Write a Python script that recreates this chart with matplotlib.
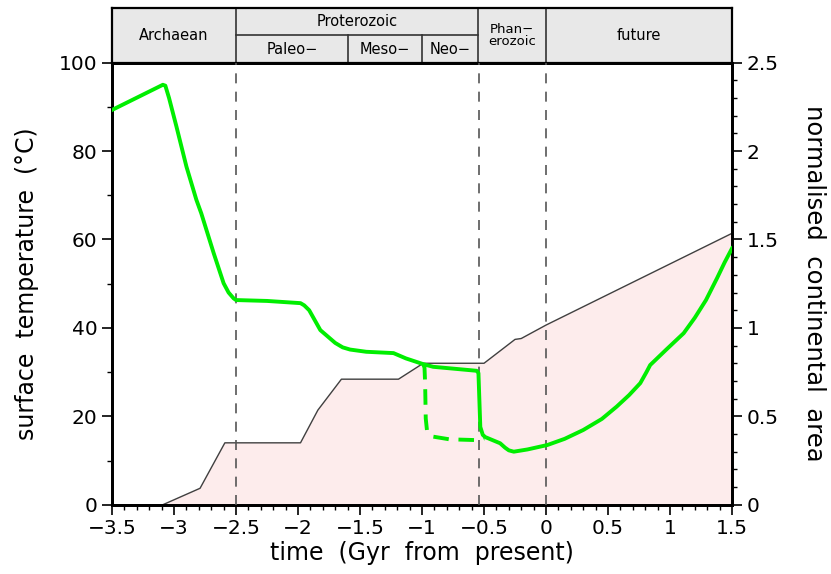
import matplotlib
matplotlib.use("Agg")
import matplotlib.pyplot as plt
from matplotlib.ticker import MultipleLocator

# surface temperature (solid green)
temp_t = [-3.5, -3.09, -3.07, -3.04, -2.98, -2.90, -2.82, -2.78, -2.68, -2.60, -2.56,
          -2.52, -2.50, -2.25, -1.98, -1.95, -1.91, -1.82, -1.70, -1.64, -1.58, -1.45,
          -1.23, -1.13, -0.99, -0.91, -0.56, -0.545, -0.53, -0.51, -0.49, -0.37, -0.33,
          -0.30, -0.26, -0.15, 0.01, 0.15, 0.30, 0.45, 0.57, 0.67, 0.76, 0.81, 0.84,
          0.97, 1.11, 1.20, 1.29, 1.38, 1.44, 1.5]
temp = [89.3, 95.0, 94.8, 92.0, 85.5, 76.5, 69.0, 65.9, 56.9, 50.1, 48.0,
        46.7, 46.3, 46.1, 45.6, 45.1, 44.0, 39.5, 36.6, 35.6, 35.1, 34.6,
        34.3, 33.1, 31.8, 31.2, 30.3, 29.8, 17.6, 15.8, 15.3, 13.9, 12.9,
        12.3, 12.0, 12.5, 13.5, 14.9, 16.9, 19.4, 22.2, 24.8, 27.5, 30.0, 31.6,
        35.1, 38.8, 42.3, 46.3, 51.3, 54.8, 58.0]

# alternative temperature branch (dashed green)
alt_t = [-0.99, -0.98, -0.975, -0.97, -0.96, -0.94, -0.91, -0.78, -0.54, -0.50]
alt_temp = [31.8, 31.0, 27.5, 19.5, 16.8, 15.9, 15.4, 14.8, 14.6, 15.0]

# normalised continental area (grey line, right axis)
area_t = [-3.5, -3.09, -2.79, -2.59, -1.98, -1.84, -1.65, -1.19, -0.99, -0.50,
          -0.25, -0.20, 0.0, 1.5]
area = [0.0, 0.0, 0.093, 0.35, 0.35, 0.535, 0.71, 0.71, 0.80, 0.80,
        0.935, 0.94, 1.016, 1.535]

boundaries = [-2.5, -0.54, 0.0]
xticks = [-3.5, -3, -2.5, -2, -1.5, -1, -0.5, 0, 0.5, 1, 1.5]
xlabels = ["\u22123.5", "\u22123", "\u22122.5", "\u22122", "\u22121.5", "\u22121",
           "\u22120.5", "0", "0.5", "1", "1.5"]
rticks = [0, 0.5, 1, 1.5, 2, 2.5]
rlabels = ["0", "0.5", "1", "1.5", "2", "2.5"]

fig = plt.figure(figsize=(8.31, 5.74), dpi=100)
ax = fig.add_axes([0.1348, 0.1207, 0.7461, 0.7701])
ax2 = ax.twinx()

ax2.fill_between(area_t, area, 0, color="#fdecec", zorder=0)
ax2.plot(area_t, area, color="#404040", lw=1.0)
ax2.set_ylim(0, 2.5)

for b in boundaries:
    ax.axvline(b, color="#555555", lw=1.2, ls=(0, (6, 5)), zorder=3)

ax.set_zorder(ax2.get_zorder() + 1)
ax.patch.set_visible(False)
ax.plot(alt_t, alt_temp, color="#00ee00", lw=2.8, ls=(0, (4, 2.5)), zorder=4)
ax.plot(temp_t, temp, color="#00ee00", lw=2.8, zorder=5, solid_joinstyle="round")

ax.set_xlim(-3.5, 1.5)
ax.set_ylim(0, 100)
ax.xaxis.set_minor_locator(MultipleLocator(0.1))
ax.yaxis.set_major_locator(MultipleLocator(20))
ax.yaxis.set_minor_locator(MultipleLocator(10))
ax2.yaxis.set_minor_locator(MultipleLocator(0.1))
ax.set_xticks(xticks)
ax.set_xticklabels(xlabels)
ax2.set_yticks(rticks)
ax2.set_yticklabels(rlabels)

for a in (ax, ax2):
    a.tick_params(which="major", direction="out", length=7, width=1.2, labelsize=14.5)
    a.tick_params(which="minor", direction="out", length=3.5, width=1.0)
    for s in a.spines.values():
        s.set_linewidth(2)
ax.tick_params(axis="x", which="both", top=False)

ax.set_xlabel("time  (Gyr  from  present)", fontsize=17, labelpad=2)
ax.set_ylabel("surface  temperature  (\u00b0C)", fontsize=17, labelpad=14)
ax2.set_ylabel("normalised  continental  area", fontsize=17.5, rotation=270, labelpad=34)

# geological time header
hd = fig.add_axes([0.1348, 0.8908, 0.7461, 0.0953])
hd.set_xlim(-3.5, 1.5)
hd.set_ylim(0, 1)
hd.set_facecolor("#e8e8e8")
hd.set_xticks([])
hd.set_yticks([])
for s in hd.spines.values():
    s.set_linewidth(1.6)
for b in [-2.5, -0.55, 0.0]:
    hd.plot([b, b], [0, 1], color="#333333", lw=1.2)
for b in [-1.6, -1.0]:
    hd.plot([b, b], [0, 0.5], color="#333333", lw=1.2)
hd.plot([-2.5, -0.55], [0.5, 0.5], color="#333333", lw=1.2)

hfs = 10.5
hd.text(-3.0, 0.5, "Archaean", ha="center", va="center", fontsize=hfs)
hd.text(-1.525, 0.75, "Proterozoic", ha="center", va="center", fontsize=hfs)
hd.text(-2.05, 0.25, "Paleo\u2212", ha="center", va="center", fontsize=hfs)
hd.text(-1.3, 0.25, "Meso\u2212", ha="center", va="center", fontsize=hfs)
hd.text(-0.775, 0.25, "Neo\u2212", ha="center", va="center", fontsize=hfs)
hd.text(-0.275, 0.5, "Phan\u2212\nerozoic", ha="center", va="center", fontsize=9.5,
        linespacing=0.95)
hd.text(0.75, 0.5, "future", ha="center", va="center", fontsize=hfs)

fig.savefig("out.png", dpi=100)
